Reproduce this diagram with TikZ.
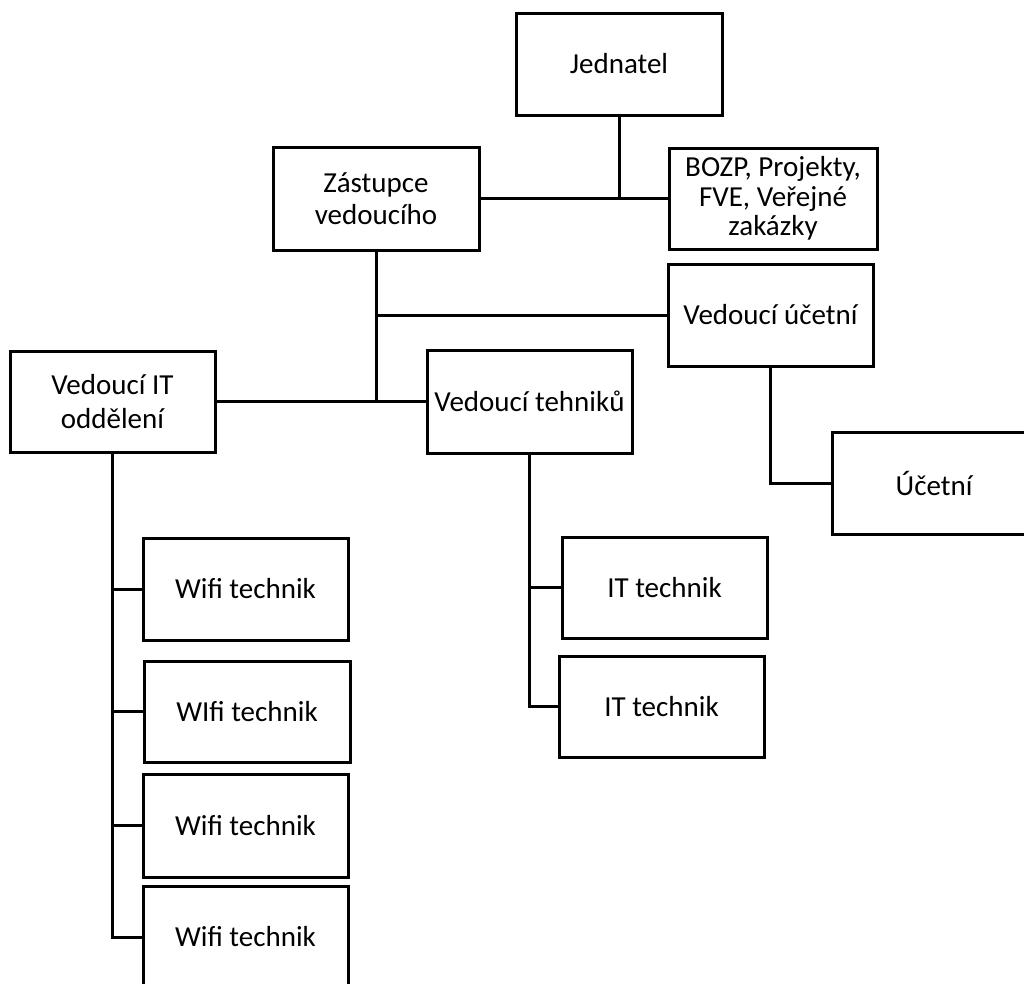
\documentclass[tikz,border=0pt]{standalone}
\usepackage{fontspec}
\setmainfont{Carlito}
\begin{document}
\begin{tikzpicture}[x=1pt, y=-1pt,
  orgbox/.style={draw, line width=3pt, minimum width=205pt, minimum height=102pt,
    inner sep=0pt, align=center, font=\fontsize{29}{34}\selectfont},
  link/.style={line width=3pt}]
\useasboundingbox (0,0) rectangle (1024,983);
\clip (0,0) rectangle (1024,983);

% boxes
\node[orgbox, minimum width=206pt] (jed) at (619,64) {Jednatel};
\node[orgbox, minimum width=206pt, minimum height=103pt,
      font=\fontsize{29}{32}\selectfont] (zas) at (376,198.5) {Zástupce\\vedoucího};
\node[orgbox, minimum width=208pt, minimum height=101pt,
      font=\fontsize{29}{29.5}\selectfont] (bozp) at (773,198.5) {BOZP, Projekty,\\FVE, Veřejné\\zakázky};
\node[orgbox] (vuc) at (770.5,315) {Vedoucí účetní};
\node[orgbox, minimum height=101pt] (vit) at (112.5,401.5) {Vedoucí IT\\oddělení};
\node[orgbox, minimum height=103pt] (vtech) at (529.5,401.5) {Vedoucí tehniků};
\node[orgbox, minimum width=204pt] (uc) at (934,483) {Účetní};

\node[orgbox] (w1) at (245.5,589) {Wifi technik};
\node[orgbox, minimum width=206pt, minimum height=101pt] (w2) at (247,711.5) {WIfi technik};
\node[orgbox, minimum height=103pt] (w3) at (245.5,825.5) {Wifi technik};
\node[orgbox] (w4) at (245.5,937) {Wifi technik};

\node[orgbox, minimum height=101pt] (it1) at (664.5,587.5) {IT technik};
\node[orgbox, minimum height=101pt] (it2) at (661.5,706.5) {IT technik};

% connectors
\draw[link] (zas.east) -- (bozp.west);
\draw[link] (jed.south) -- (jed.south |- zas.east);
\draw[link] (zas.south) -- (zas.south |- vtech.west);
\draw[link] (zas.south |- vuc.west) -- (vuc.west);
\draw[link] (vit.east) -- (vtech.west);
\draw[link] (vuc.south) |- (uc.west);
\draw[link] (vit.south) |- (w4.west);
\draw[link] (vit.south |- w1.west) -- (w1.west);
\draw[link] (vit.south |- w2.west) -- (w2.west);
\draw[link] (vit.south |- w3.west) -- (w3.west);
\draw[link] (vtech.south) |- (it2.west);
\draw[link] (vtech.south |- it1.west) -- (it1.west);
\end{tikzpicture}
\end{document}
